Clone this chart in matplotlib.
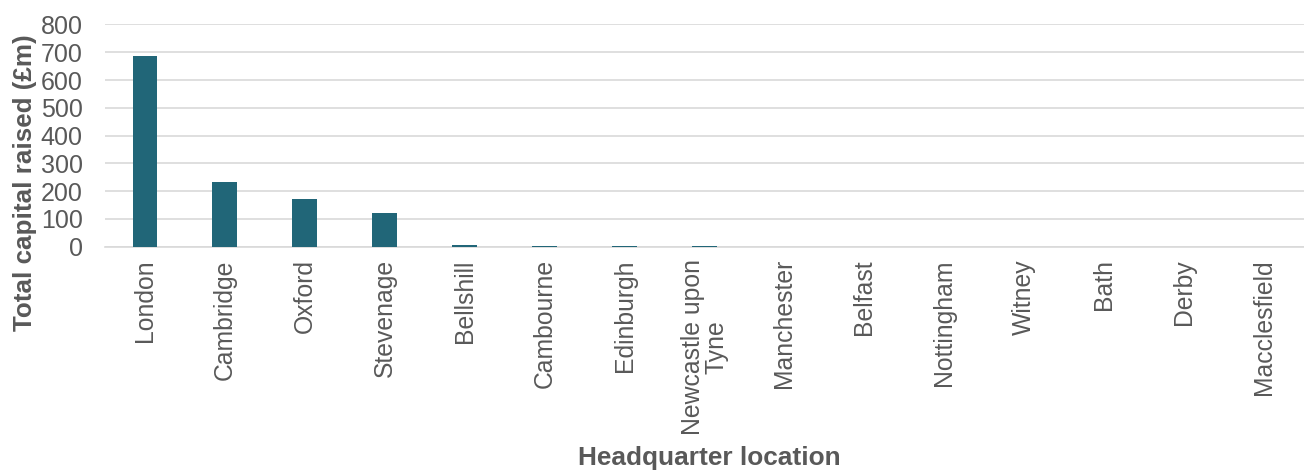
import matplotlib
matplotlib.use("Agg")
import matplotlib.pyplot as plt

plt.rcParams['font.family'] = ['Liberation Sans', 'DejaVu Sans']

categories = ["London", "Cambridge", "Oxford", "Stevenage", "Bellshill", "Cambourne",
              "Edinburgh", "Newcastle upon\nTyne", "Manchester", "Belfast", "Nottingham",
              "Witney", "Bath", "Derby", "Macclesfield"]
values = [687, 232, 172, 122, 7, 3, 3, 2, 0, 0, 0, 0, 0, 0, 0]
yticks = [0, 100, 200, 300, 400, 500, 600, 700, 800]

bar_color = "#216678"
text_color = "#595959"
grid_color = "#D9D9D9"

fig = plt.figure(figsize=(13.04, 4.70), dpi=100)
ax = fig.add_axes([0.0805, 0.475, 0.9195, 0.473])

x = list(range(len(categories)))
ax.bar(x, values, width=0.31, color=bar_color, zorder=3)
ax.set_xlim(-0.5, len(categories) - 0.5)
ax.set_ylim(0, 800)
ax.set_yticks(yticks)
ax.set_yticklabels([str(v) for v in yticks], fontsize=18, color=text_color)
ax.set_xticks(x)
ax.set_xticklabels(categories, rotation=90, fontsize=17.8, color=text_color,
                   va='top', ha='center', multialignment='center', linespacing=0.95)
ax.tick_params(axis='both', length=0)
ax.tick_params(axis='x', pad=9)
ax.tick_params(axis='y', pad=16)

ax.yaxis.grid(True, color=grid_color, linewidth=1.2, zorder=0)
ax.set_axisbelow(True)
for s in ['top', 'right', 'left']:
    ax.spines[s].set_visible(False)
ax.spines['bottom'].set_color(grid_color)
ax.spines['bottom'].set_linewidth(1.2)

ax.set_ylabel("Total capital raised (£m)", fontsize=18.7, fontweight='bold', color=text_color)
ax.yaxis.set_label_coords(-0.057, 0.29)
fig.text(0.5437, 0.026, "Headquarter location", fontsize=18.9, fontweight='bold',
         color=text_color, ha='center', va='center')

fig.savefig("out.png", dpi=100)
